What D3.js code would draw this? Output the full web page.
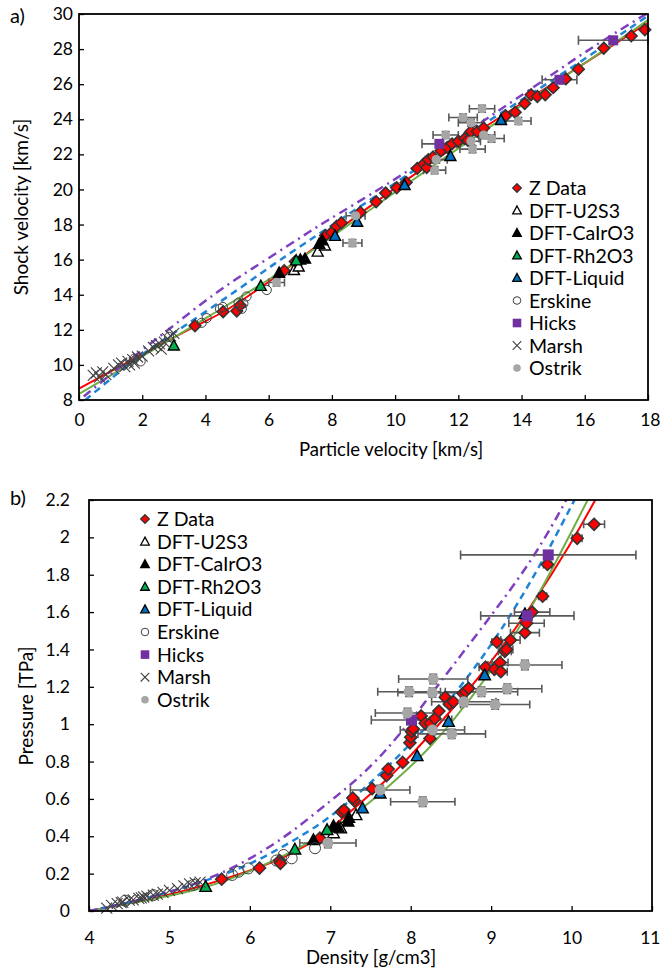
<!DOCTYPE html>
<html>
<head>
<meta charset="utf-8">
<script src="https://cdn.jsdelivr.net/npm/d3@7"></script>
<style>
  body { margin: 0; background: #fff; }
  text { font-family: Lato, "Open Sans", sans-serif; fill: #000; }
</style>
</head>
<body>
<svg width="661" height="968"></svg>
<script>
// ---------- panel a: Us - up ----------
var zA = [[3.67,12.23],[4.56,13.03],[4.99,13.07],[5.1,13.4],[6.49,15.37],[6.84,15.9],[7.8,17.38],[7.99,17.55],[8.15,17.9],
  [8.3,18.1],[8.9,18.7],[9.4,19.3],[9.7,19.8],[10.05,20.1],[10.35,20.4],[10.7,21.2],[10.9,21.45],[11.0,21.25],[11.05,21.7],
  [11.2,21.85],[11.45,22.2],[11.65,22.4],[11.8,22.6],[12.0,22.75],[12.2,22.9],[12.3,22.8],[12.4,23.3],[12.6,23.3],[12.8,23.5],
  [13.5,24.2],[13.8,24.4],[14.1,24.9],[14.3,25.4],[14.5,25.3],[14.75,25.4],[15.0,25.8],[15.4,26.3],[15.8,26.85],[16.6,28.05],
  [17.47,28.75],[17.9,29.1]];
var u2A = [[6.8,15.4],[6.95,15.6],[7.55,16.45],[7.78,16.8]];
var caA = [[6.33,15.25],[7.0,16.0],[7.15,16.05],[7.6,16.9],[7.7,17.1]];
var rhA = [[3.0,11.1],[5.75,14.5],[6.87,15.95]];
var liqA = [[8.1,17.35],[8.8,18.15],[10.3,20.25],[11.75,21.9],[13.35,23.95]];
var erskineA = [[1.75,10.35],[1.95,10.2],[2.85,11.6],[3.88,12.4],[4.04,12.67],[4.46,13.2],[4.55,13.3],[5.05,13.55],
  [5.15,13.2],[5.2,13.5],[5.3,13.9],[5.94,14.27]];
var hicksA = [[11.4,22.6,0.55],[15.2,26.25,0.55],[16.9,28.5,1.1]];
var marshA = [[0.45,9.4],[0.55,9.55],[0.65,9.3],[0.75,9.6],[0.85,9.45],[1.1,9.8],[1.25,10.0],[1.35,10.1],[1.45,9.9],
  [1.55,10.2],[1.6,10.0],[1.7,10.3],[1.75,10.1],[1.85,10.45],[2.0,10.5],[2.2,10.8],[2.35,11.0],[2.45,11.1],[2.55,11.2],
  [2.6,10.9],[2.7,11.3],[2.8,11.5],[2.9,11.65],[3.0,11.8]];
// up, Us, up error (Us error is 0.2 for all)
var ostrikA = [[12.75,24.6,0.4],[12.15,24.1,0.45],[12.4,23.8,0.4],[11.6,23.1,0.4],[11.3,21.7,0.35],[11.25,21.1,0.35],
  [12.45,22.3,0.4],[13.05,22.9,0.4],[12.8,23.1,0.35],[12.4,22.75,0.3],[13.9,23.9,0.4],[8.75,18.5,0.3],[8.65,16.95,0.3],
  [6.25,14.7,0.25]];

var redFitA = [[0,8.65],[2,10.6],[3.7,12.25],[4.6,13.0],[5.5,14.1],[6.5,15.35],[8,17.45],[10,20.1],[12,22.6],[14,24.9],[16,27.2],[18,29.5]];
var greenFitA = [[0,8.35],[1,9.4],[2,10.5],[3,11.55],[4,12.65],[5,13.75],[6,14.85],[7,16.05],[8,17.3],[10,19.85],[12,22.35],[14,24.8],[16,27.2],[18,29.65]];
var blueFitA = [[0.2,8.0],[1,9.2],[2,10.65],[3.25,12.1],[5,14.25],[6.4,16.05],[8,17.95],[10,20.35],[12,22.8],[14,25.1],[15.65,27.0],[18,29.9]];
var purpleFitA = [[0.15,8.2],[1,9.45],[2,10.85],[3,12.25],[4.3,14.1],[5.4,15.4],[7.05,17.3],[7.63,18.0],[9.74,20.25],[12,22.95],[14.2,25.6],[15.4,27.1],[16.5,28.4],[17.7,29.75],[18,30.05]];

var xTicksA = [0,2,4,6,8,10,12,14,16,18];
var yTicksA = [8,10,12,14,16,18,20,22,24,26,28,30];

// ---------- panel b: P - rho ----------
// density, pressure, density error
var zB = [[5.65,0.170,0],[6.12,0.230,0],[6.37,0.270,0],[6.38,0.255,0],[6.87,0.390,0],[7.14,0.530,0],[7.17,0.540,0],
  [7.30,0.590,0],[7.28,0.605,0],[7.52,0.655,0],[7.70,0.725,0],[7.72,0.760,0],[7.90,0.795,0],[7.99,0.900,0],[8.00,0.930,0],
  [8.01,0.960,0],[8.03,0.975,0],[8.13,1.044,0],[8.18,1.005,0],[8.24,1.005,0],[8.24,0.924,0],[8.30,1.030,0],[8.35,1.070,0],
  [8.43,1.144,0],[8.48,1.108,0],[8.53,1.120,0],[8.65,1.165,0],[8.68,1.175,0],[8.72,1.192,0],[8.93,1.305,0.08],
  [9.04,1.294,0.08],[9.11,1.330,0.1],[9.12,1.281,0.08],[9.17,1.390,0.08],[9.19,1.400,0.08],[9.07,1.440,0.06],
  [9.24,1.450,0.12],[9.42,1.490,0.18],[9.44,1.540,0.22],[9.51,1.600,0.22],[9.64,1.685,0.05],[9.70,1.855,0.05],
  [10.07,1.995,0.06],[10.28,2.070,0.13]];
var u2B = [[7.04,0.417],[7.13,0.443],[7.32,0.514]];
var caB = [[6.79,0.380],[7.04,0.455],[7.10,0.448],[7.23,0.500],[7.22,0.480]];
var rhB = [[5.45,0.130],[6.56,0.330],[6.96,0.434]];
var liqB = [[7.40,0.550],[7.62,0.630],[8.08,0.830],[8.47,1.013],[8.92,1.263],[9.42,1.590]];
var erskineB = [[4.45,0.055],[4.80,0.085],[5.30,0.140],[5.78,0.193],[5.86,0.210],[5.98,0.228],[6.33,0.270],[6.42,0.300],
  [6.52,0.282],[6.81,0.336]];
var hicksB = [[8.01,1.022,0.5],[9.45,1.580,0.58],[9.71,1.906,1.09]];
var marshB = [[4.22,0.015],[4.28,0.030],[4.35,0.040],[4.40,0.045],[4.42,0.048],[4.50,0.058],[4.55,0.060],[4.62,0.067],
  [4.65,0.070],[4.68,0.075],[4.72,0.080],[4.80,0.085],[4.85,0.090],[4.92,0.100],[5.00,0.110],[5.10,0.120],[5.18,0.135],
  [5.25,0.145],[5.32,0.150],[5.38,0.155]];
var ostrikB = [[9.42,1.317,0.46],[8.28,1.242,0.43],[7.98,1.174,0.39],[8.27,1.169,0.43],[8.88,1.174,0.45],[9.20,1.190,0.43],
  [9.05,1.105,0.43],[8.66,1.120,0.40],[7.96,1.060,0.40],[8.27,0.969,0.40],[8.51,0.948,0.42],[7.62,0.648,0.37],
  [8.15,0.585,0.40],[6.97,0.364,0.35]];

var redFitB = [[4,0],[4.5,0.04],[5,0.085],[5.65,0.165],[6.1,0.23],[6.5,0.3],[6.9,0.4],[7.3,0.55],[7.7,0.7],[8,0.83],[8.5,1.07],[9,1.33],[9.5,1.63],[10,1.97],[10.32,2.22]];
var greenFitB = [[4,0],[4.5,0.04],[5,0.08],[5.5,0.13],[6,0.21],[6.5,0.31],[7,0.43],[7.4,0.55],[7.6,0.62],[8.1,0.81],[8.5,1.0],[9,1.28],[9.5,1.61],[10.2,2.2]];
var blueFitB = [[4,0],[4.5,0.045],[5,0.1],[5.5,0.17],[6,0.245],[6.6,0.39],[7,0.5],[7.45,0.665],[7.93,0.86],[8.5,1.13],[9,1.42],[9.36,1.665],[9.7,1.92],[10.06,2.22]];
var purpleFitB = [[4,0],[4.5,0.045],[5,0.1],[5.6,0.185],[6.35,0.36],[7,0.59],[7.62,0.8],[8.5,1.3],[9,1.58],[9.55,1.9],[9.96,2.22]];

var xTicksB = [4,5,6,7,8,9,10,11];
var yTicksB = [0,0.2,0.4,0.6,0.8,1,1.2,1.4,1.6,1.8,2,2.2];

var seriesNames = ["Z Data","DFT-U2S3","DFT-CaIrO3","DFT-Rh2O3","DFT-Liquid","Erskine","Hicks","Marsh","Ostrik"];

// ---------- drawing ----------
var svg = d3.select("svg");

var styles = {
  "Z Data":     {shape: "diamond",  fill: "#ff0000", stroke: "#333",    sw: 1.6},
  "DFT-U2S3":   {shape: "triangle", fill: "#ffffff", stroke: "#000",    sw: 1.4},
  "DFT-CaIrO3": {shape: "triangle", fill: "#000000", stroke: "#000",    sw: 1.4},
  "DFT-Rh2O3":  {shape: "triangle", fill: "#00b050", stroke: "#000",    sw: 1.4},
  "DFT-Liquid": {shape: "triangle", fill: "#0070c0", stroke: "#000",    sw: 1.4},
  "Erskine":    {shape: "circle",   fill: "none",    stroke: "#404040", sw: 1},
  "Hicks":      {shape: "square",   fill: "#7030a0", stroke: "none",    sw: 0},
  "Marsh":      {shape: "x",        fill: "none",    stroke: "#404040", sw: 1.1},
  "Ostrik":     {shape: "circle",   fill: "#a6a6a6", stroke: "none",    sw: 0}
};

function shapePath(shape, s) {
  if (shape == "diamond") return "M0," + (-s) + "L" + s + ",0L0," + s + "L" + (-s) + ",0Z";
  if (shape == "triangle") return "M0," + (-s * 1.05) + "L" + s + "," + (s * 0.8) + "L" + (-s) + "," + (s * 0.8) + "Z";
  if (shape == "square") return "M" + (-s) + "," + (-s) + "h" + (2 * s) + "v" + (2 * s) + "h" + (-2 * s) + "Z";
  if (shape == "x") return "M" + (-s) + "," + (-s) + "L" + s + "," + s + "M" + (-s) + "," + s + "L" + s + "," + (-s);
  // circle
  return "M" + s + ",0A" + s + "," + s + " 0 1,1 " + (-s) + ",0A" + s + "," + s + " 0 1,1 " + s + ",0Z";
}

function drawPanel(p) {
  var x = d3.scaleLinear().domain(p.xDomain).range([p.left, p.right]);
  var y = d3.scaleLinear().domain(p.yDomain).range([p.bottom, p.top]);

  svg.append("clipPath").attr("id", "clip-" + p.name)
    .append("rect")
    .attr("x", p.left).attr("y", p.top)
    .attr("width", p.right - p.left).attr("height", p.bottom - p.top);

  var g = svg.append("g");

  // fits
  var line = d3.line()
    .x(function(d) { return x(d[0]); })
    .y(function(d) { return y(d[1]); })
    .curve(d3.curveBasis);

  var fits = [
    {d: p.fits[0], color: "#ff0000", w: 2, dash: null},
    {d: p.fits[1], color: "#70ad47", w: 2, dash: null},
    {d: p.fits[2], color: "#1f84d6", w: 2.5, dash: "7,5"},
    {d: p.fits[3], color: "#7f3fbf", w: 2.5, dash: "9,5,2,5"}
  ];
  g.append("g").attr("clip-path", "url(#clip-" + p.name + ")")
    .selectAll("path")
    .data(fits)
    .enter().append("path")
    .attr("d", function(f) { return line(f.d); })
    .attr("fill", "none")
    .attr("stroke", function(f) { return f.color; })
    .attr("stroke-width", function(f) { return f.w; })
    .attr("stroke-dasharray", function(f) { return f.dash; });

  // error bars
  var eb = g.append("g").attr("stroke", "#595959").attr("stroke-width", 1.6).attr("fill", "none");
  function hbar(d, err, cap) {
    var x0 = x(d[0] - err), x1 = x(d[0] + err), yy = y(d[1]);
    eb.append("path").attr("d", "M" + x0 + "," + yy + "H" + x1 +
      "M" + x0 + "," + (yy - cap) + "V" + (yy + cap) + "M" + x1 + "," + (yy - cap) + "V" + (yy + cap));
  }
  function vbar(d, err, cap) {
    var xx = x(d[0]), y0 = y(d[1] - err), y1 = y(d[1] + err);
    eb.append("path").attr("d", "M" + xx + "," + y0 + "V" + y1 +
      "M" + (xx - cap) + "," + y0 + "H" + (xx + cap) + "M" + (xx - cap) + "," + y1 + "H" + (xx + cap));
  }
  p.series["Ostrik"].forEach(function(d) { hbar(d, d[2], 4); vbar(d, p.ostrikYErr, 4); });
  p.series["Hicks"].forEach(function(d) { hbar(d, d[2], 4.5); });
  p.series["Z Data"].forEach(function(d) { if (d[2]) hbar(d, d[2], 4); });

  // markers
  seriesNames.forEach(function(name) {
    var st = styles[name];
    g.append("g").selectAll("path")
      .data(p.series[name])
      .enter().append("path")
      .attr("transform", function(d) { return "translate(" + x(d[0]) + "," + y(d[1]) + ")"; })
      .attr("d", shapePath(st.shape, p.size[st.shape]))
      .attr("fill", st.fill)
      .attr("stroke", st.stroke)
      .attr("stroke-width", st.sw);
  });

  // axes, ticks inside
  var xAxis = g.append("g")
    .attr("transform", "translate(0," + p.bottom + ")")
    .call(d3.axisBottom(x).tickValues(p.xTicks).tickSizeInner(-5).tickSizeOuter(0).tickPadding(p.xPad)
      .tickFormat(d3.format("")));
  var yAxis = g.append("g")
    .attr("transform", "translate(" + p.left + ",0)")
    .call(d3.axisLeft(y).tickValues(p.yTicks).tickSizeInner(-5).tickSizeOuter(0).tickPadding(p.yPad)
      .tickFormat(function(d) { return d3.format("")(+d.toFixed(1)); }));
  [xAxis, yAxis].forEach(function(a) {
    a.select(".domain").remove();
    a.selectAll("line").attr("stroke", "#000").attr("stroke-width", 1.3);
    a.selectAll("text").attr("font-size", 17.5).attr("font-family", "Lato, sans-serif").attr("fill", "#000");
  });
  // last x label sits at the page edge, keep it inside
  xAxis.selectAll("text").filter(function(d) { return d == p.xTicks[p.xTicks.length - 1]; })
    .attr("text-anchor", "end").attr("dx", 660 - p.right);

  g.append("rect")
    .attr("x", p.left).attr("y", p.top)
    .attr("width", p.right - p.left).attr("height", p.bottom - p.top)
    .attr("fill", "none").attr("stroke", "#000").attr("stroke-width", 1.8);

  // titles
  g.append("text")
    .attr("x", p.xTitle[0]).attr("y", p.xTitle[1])
    .attr("text-anchor", "middle").attr("font-size", 18.5)
    .text(p.xLabel);
  g.append("text")
    .attr("transform", "translate(" + p.yTitle[0] + "," + p.yTitle[1] + ") rotate(-90)")
    .attr("text-anchor", "middle").attr("font-size", 19)
    .text(p.yLabel);
  g.append("text")
    .attr("x", p.tag[0]).attr("y", p.tag[1])
    .attr("font-size", 20)
    .text(p.name + ")");

  // legend
  var lg = g.append("g").attr("transform", "translate(" + p.legend[0] + "," + p.legend[1] + ")");
  seriesNames.forEach(function(name, i) {
    var st = styles[name];
    var row = lg.append("g").attr("transform", "translate(0," + (i * p.legendStep) + ")");
    row.append("path")
      .attr("d", shapePath(st.shape, st.shape == "circle" ? 3.8 : 4.3))
      .attr("fill", st.fill == "none" ? "#fff" : st.fill)
      .attr("stroke", st.stroke)
      .attr("stroke-width", Math.min(st.sw, 1.3));
    row.append("text")
      .attr("x", 12).attr("y", 7)
      .attr("font-size", 19.5)
      .text(name);
  });
}

drawPanel({
  name: "a",
  left: 79, right: 648, top: 14, bottom: 400,
  xDomain: [0, 18], yDomain: [8, 30],
  xTicks: xTicksA, yTicks: yTicksA,
  xPad: 14, yPad: 6,
  series: {"Z Data": zA, "DFT-U2S3": u2A, "DFT-CaIrO3": caA, "DFT-Rh2O3": rhA, "DFT-Liquid": liqA,
           "Erskine": erskineA, "Hicks": hicksA, "Marsh": marshA, "Ostrik": ostrikA},
  ostrikYErr: 0.2,
  fits: [redFitA, greenFitA, blueFitA, purpleFitA],
  size: {diamond: 5.8, triangle: 5.5, square: 5, circle: 4.6, x: 5.5},
  xLabel: "Particle velocity [km/s]", yLabel: "Shock velocity [km/s]",
  xTitle: [391, 456], yTitle: [28, 207], tag: [10, 23],
  legend: [517, 188], legendStep: 22.5
});

drawPanel({
  name: "b",
  left: 89, right: 652, top: 500, bottom: 911,
  xDomain: [4, 11], yDomain: [0, 2.2],
  xTicks: xTicksB, yTicks: yTicksB,
  xPad: 20.5, yPad: 19,
  series: {"Z Data": zB, "DFT-U2S3": u2B, "DFT-CaIrO3": caB, "DFT-Rh2O3": rhB, "DFT-Liquid": liqB,
           "Erskine": erskineB, "Hicks": hicksB, "Marsh": marshB, "Ostrik": ostrikB},
  ostrikYErr: 0.025,
  fits: [redFitB, greenFitB, blueFitB, purpleFitB],
  size: {diamond: 6, triangle: 5.8, square: 5.5, circle: 5.5, x: 5.5},
  xLabel: "Density [g/cm3]", yLabel: "Pressure [TPa]",
  xTitle: [371, 964], yTitle: [33, 706], tag: [10, 505],
  legend: [145, 519], legendStep: 22.6
});
</script>
</body>
</html>
